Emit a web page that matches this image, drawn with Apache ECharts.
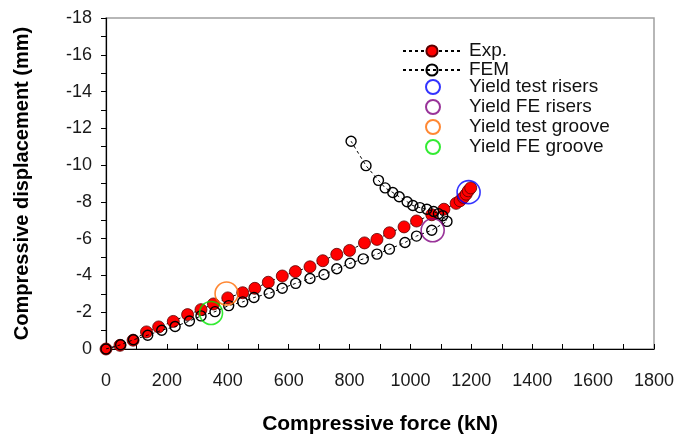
<!DOCTYPE html>
<html>
<head>
<meta charset="utf-8">
<script src="https://cdn.jsdelivr.net/npm/echarts@6/dist/echarts.min.js"></script>
<style>html,body{margin:0;padding:0;background:#fff}#c{width:678px;height:440px}</style>
</head>
<body>
<div id="c"></div>
<script>
const xTicks = [0, 200, 400, 600, 800, 1000, 1200, 1400, 1600, 1800];
const yTicks = [-18, -16, -14, -12, -10, -8, -6, -4, -2, 0];

const expForce = [0, 46, 89, 133, 173, 221, 268, 312, 353, 400, 449, 489, 533, 579, 622, 670, 712, 758, 800, 849, 890, 931, 979, 1020, 1070, 1110, 1150, 1163, 1174, 1183, 1190, 1198];
const expDisp  = [0, -0.2, -0.48, -0.93, -1.2, -1.5, -1.87, -2.14, -2.45, -2.78, -3.06, -3.3, -3.63, -3.97, -4.21, -4.47, -4.8, -5.15, -5.36, -5.77, -5.96, -6.32, -6.64, -6.96, -7.3, -7.6, -7.92, -8.06, -8.24, -8.42, -8.6, -8.76];

const femForce = [0, 48, 90, 137, 183, 227, 274, 312, 358, 403, 449, 486, 536, 579, 623, 670, 716, 758, 802, 845, 890, 931, 982, 1020, 1070, 1120, 1106, 1092, 1076, 1054, 1031, 1008, 989, 963, 942, 917, 895, 854, 805];
const femDisp  = [0, -0.23, -0.5, -0.75, -1.02, -1.22, -1.52, -1.8, -2.03, -2.36, -2.56, -2.8, -3.03, -3.3, -3.57, -3.83, -4.05, -4.36, -4.66, -4.9, -5.16, -5.43, -5.79, -6.14, -6.46, -6.94, -7.25, -7.36, -7.48, -7.6, -7.69, -7.8, -8.01, -8.28, -8.51, -8.76, -9.17, -9.97, -11.3];

const yieldTestRisers = [1191, -8.53];
const yieldFERisers   = [1073, -6.46];
const yieldTestGroove = [396, -3.02];
const yieldFEGroove   = [345, -1.96];

const FONT = '"Liberation Sans", Arial, sans-serif';
const pairs = (a, b) => a.map((v, i) => [v, b[i]]);

const chart = echarts.init(document.getElementById('c'), null, {renderer: 'canvas'});

function yieldSeries(name, pt, color) {
  return {
    name: name, type: 'scatter', data: [pt], symbol: 'circle', symbolSize: 23, z: 5,
    itemStyle: {color: 'rgba(0,0,0,0)', borderColor: color, borderWidth: 1.6}
  };
}

const legendText = {fontFamily: FONT, fontSize: 19, color: '#111', lineHeight: 19};

chart.setOption({
  animation: false,
  backgroundColor: '#fff',
  grid: {left: 106, right: 24, top: 18, bottom: 85, show: true, borderColor: '#a0a0a0', borderWidth: 1.5, backgroundColor: 'transparent'},
  legend: [
    {
      data: ['Exp.', 'FEM'], orient: 'vertical', left: 402, top: 41.5, padding: 0,
      itemWidth: 58, itemHeight: 14, itemGap: 0, selectedMode: false,
      textStyle: Object.assign({padding: [0, 0, 0, 3]}, legendText)
    },
    {
      data: ['Yield test risers', 'Yield FE risers', 'Yield test groove', 'Yield FE groove'],
      orient: 'vertical', left: 425, top: 77.5, padding: 0,
      itemWidth: 14, itemHeight: 14, itemGap: 1, selectedMode: false,
      textStyle: Object.assign({padding: [0, 0, 0, 24]}, legendText)
    }
  ],
  xAxis: {
    type: 'value', min: 0, max: 1800, interval: 200,
    name: 'Compressive force (kN)', nameLocation: 'middle', nameGap: 65,
    nameTextStyle: {fontFamily: FONT, fontSize: 21, fontWeight: 'bold', color: '#000'},
    axisLine: {show: true, onZero: false, lineStyle: {color: '#000', width: 1.2}},
    axisTick: {show: true, inside: true, length: 5, lineStyle: {color: '#000'}},
    minorTick: {show: true, splitNumber: 2, length: 5, lineStyle: {color: '#000'}},
    axisLabel: {fontFamily: FONT, fontSize: 18, color: '#1a1a1a', margin: 23, formatter: v => xTicks.includes(v) ? String(v) : ''},
    splitLine: {show: false}
  },
  yAxis: {
    type: 'value', min: -18, max: 0, interval: 2, inverse: true,
    name: 'Compressive displacement (mm)', nameLocation: 'middle', nameGap: 74,
    nameTextStyle: {fontFamily: FONT, fontSize: 20, fontWeight: 'bold', color: '#000', padding: [0, 0, 0, 0]},
    axisLine: {show: true, onZero: false, lineStyle: {color: '#000', width: 1.2}},
    axisTick: {show: true, inside: false, length: 5, lineStyle: {color: '#000'}},
    minorTick: {show: true, splitNumber: 2, length: 5, lineStyle: {color: '#000'}},
    axisLabel: {fontFamily: FONT, fontSize: 18, color: '#1a1a1a', margin: 14, formatter: v => yTicks.includes(v) ? String(v) : ''},
    splitLine: {show: false}
  },
  series: [
    {
      name: 'Exp.', type: 'line', data: pairs(expForce, expDisp), z: 3,
      symbol: 'circle', symbolSize: 12, showAllSymbol: true,
      lineStyle: {color: '#000', width: 1, type: [3, 3]},
      itemStyle: {color: '#ff0000', borderColor: '#5a0000', borderWidth: 0.8}
    },
    {
      name: 'FEM', type: 'line', data: pairs(femForce, femDisp), z: 4,
      symbol: 'circle', symbolSize: 10, showAllSymbol: true,
      lineStyle: {color: '#000', width: 1, type: [3, 3]},
      itemStyle: {color: 'rgba(0,0,0,0)', borderColor: '#000', borderWidth: 1.4}
    },
    yieldSeries('Yield test risers', yieldTestRisers, '#0000ff'),
    yieldSeries('Yield FE risers', yieldFERisers, '#800080'),
    yieldSeries('Yield test groove', yieldTestGroove, '#ff6a00'),
    yieldSeries('Yield FE groove', yieldFEGroove, '#00e600')
  ]
});
</script>
</body>
</html>
